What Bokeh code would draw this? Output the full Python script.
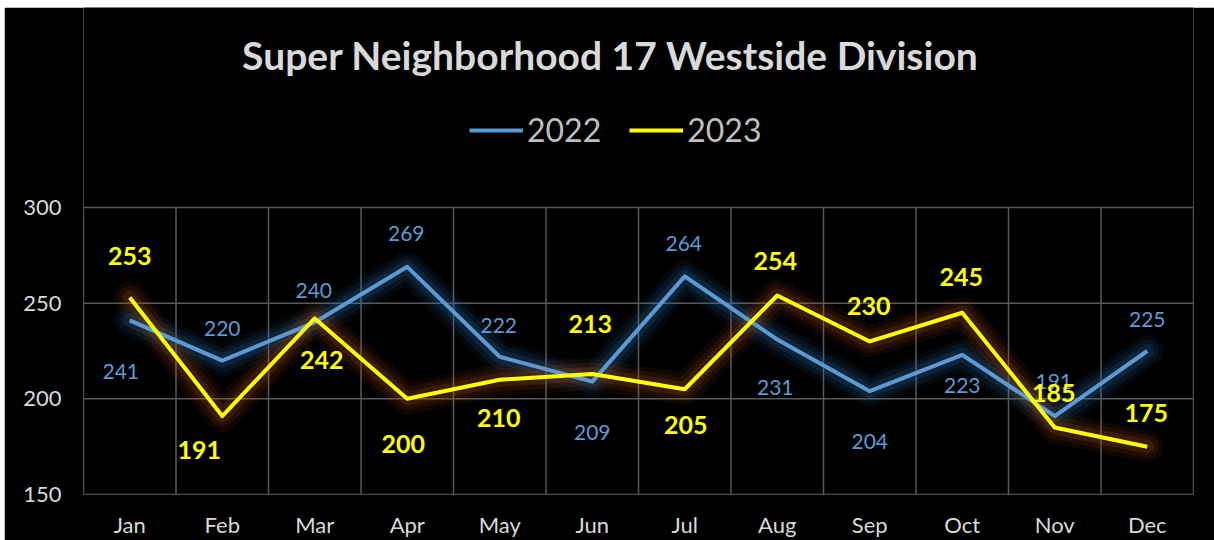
import numpy as np
from bokeh.plotting import figure
from bokeh.models import (FixedTicker, Legend, LegendItem, ColumnDataSource, Label)
from bokeh.core.properties import value
from bokeh.embed import file_html
from bokeh.resources import INLINE

# ---- data ----
months = ["Jan", "Feb", "Mar", "Apr", "May", "Jun", "Jul", "Aug", "Sep", "Oct", "Nov", "Dec"]
y2022 = [241, 220, 240, 269, 222, 209, 264, 231, 204, 223, 191, 225]
y2023 = [253, 191, 242, 200, 210, 213, 205, 254, 230, 245, 185, 175]
series_names = ["2022", "2023"]
y_ticks = [150, 200, 250, 300]
title_text = "Super Neighborhood 17 Westside Division"

# ---- label placement (style, screen pixels) ----
dx2022 = [-9, 0, -1, -1, -1, 0, -1, -2, 0, 0, -1, 0]
dy2022 = [51, -32, -32, -33, -31, 51, -33, 48, 50, 31, -35, -32]
dx2023 = [0, -23, 7, -4, -1, -2, 1, -2, -1, -1, -1, -1]
dy2023 = [-41, 34, 42, 45, 38, -50, 36, -35, -35, -36, -35, -34]

FONT = "Lato"
BLUE = "#5b9bd5"
YELLOW = "#ffff00"
GRID = "#595959"
TXT = "#d9d9d9"

# layout (pixels): figure 1210x533, plot box 287 px tall for the 150..300 span,
# with the title/legend band (200 px) above it inside the same frame
W, H = 1210, 533
BOX_H, BAND_H, BOTTOM = 287, 200, 46
y_lo, y_hi = y_ticks[0], y_ticks[-1]
y_top = y_lo + (BOX_H + BAND_H) * (y_hi - y_lo) / BOX_H

x = np.arange(len(months)) + 0.5
edges = list(range(len(months) + 1))

p = figure(width=W, height=H, output_backend="svg", toolbar_location=None,
           x_range=(0, len(months)), y_range=(y_lo, y_top),
           min_border_left=79, min_border_right=21, min_border_top=0, min_border_bottom=BOTTOM,
           background_fill_color="black", border_fill_color="black")
p.margin = (7, 0, 0, 4)
p.outline_line_color = None
p.xgrid.visible = False
p.ygrid.visible = False

# axes
p.xaxis.ticker = FixedTicker(ticks=list(x))
p.xaxis.major_label_overrides = {float(v): m for v, m in zip(x, months)}
p.yaxis.ticker = FixedTicker(ticks=y_ticks)
for ax in (p.xaxis[0], p.yaxis[0]):
    ax.axis_line_color = None
    ax.major_tick_line_color = None
    ax.minor_tick_line_color = None
    ax.major_label_text_color = TXT
    ax.major_label_text_font = FONT
    ax.major_label_text_font_size = "22px"
p.xaxis.major_label_standoff = 10
p.yaxis.major_label_standoff = 16

# plot-area grid (limited to the value span)
p.segment(x0=edges, x1=edges, y0=[y_lo] * len(edges), y1=[y_hi] * len(edges),
          line_color=GRID, line_width=1.5)
p.segment(x0=[0] * len(y_ticks), x1=[len(months)] * len(y_ticks), y0=y_ticks, y1=y_ticks,
          line_color=GRID, line_width=1.5)

# soft glows under the lines
for w, a in [(32, 0.07), (23, 0.10), (14, 0.17)]:
    p.line(x, y2022, line_color="#2e75b6", line_width=w, line_alpha=a, line_join="round", line_cap="round")
for w, a in [(32, 0.07), (23, 0.10), (14, 0.17)]:
    p.line(x, y2023, line_color="#c55a11", line_width=w, line_alpha=a, line_join="round", line_cap="round")

r22 = p.line(x, y2022, line_color=BLUE, line_width=4, line_join="round")
r23 = p.line(x, y2023, line_color=YELLOW, line_width=4, line_join="round")

s22 = ColumnDataSource(dict(x=x, y=y2022, t=[str(v) for v in y2022], dx=dx2022, dy=dy2022))
s23 = ColumnDataSource(dict(x=x, y=y2023, t=[str(v) for v in y2023], dx=dx2023, dy=dy2023))
p.text(x="x", y="y", text="t", x_offset="dx", y_offset="dy", source=s22,
       text_color=BLUE, text_font=value(FONT), text_font_size="21px",
       text_align="center", text_baseline="middle")
p.text(x="x", y="y", text="t", x_offset="dx", y_offset="dy", source=s23,
       text_color=YELLOW, text_font=value(FONT), text_font_size="25px", text_font_style="bold",
       text_align="center", text_baseline="middle")

# title (inside the top band of the frame)
p.add_layout(Label(x=527, y=440, x_units="screen", y_units="screen", text=title_text,
                   text_align="center", text_baseline="middle", text_color=TXT,
                   text_font=FONT, text_font_size="39px", text_font_style="bold"))

# legend
legend = Legend(items=[LegendItem(label=series_names[0], renderers=[r22]),
                       LegendItem(label=series_names[1], renderers=[r23])],
                orientation="horizontal", location=(386, 345),
                glyph_width=54, glyph_height=36, label_standoff=4, spacing=28,
                padding=0, margin=0, border_line_color=None, background_fill_alpha=0,
                label_text_color="#bfbfbf", label_text_font=FONT, label_text_font_size="32px",
                label_height=36)
p.add_layout(legend, "center")

open("out.html", "w").write(file_html(p, INLINE))
